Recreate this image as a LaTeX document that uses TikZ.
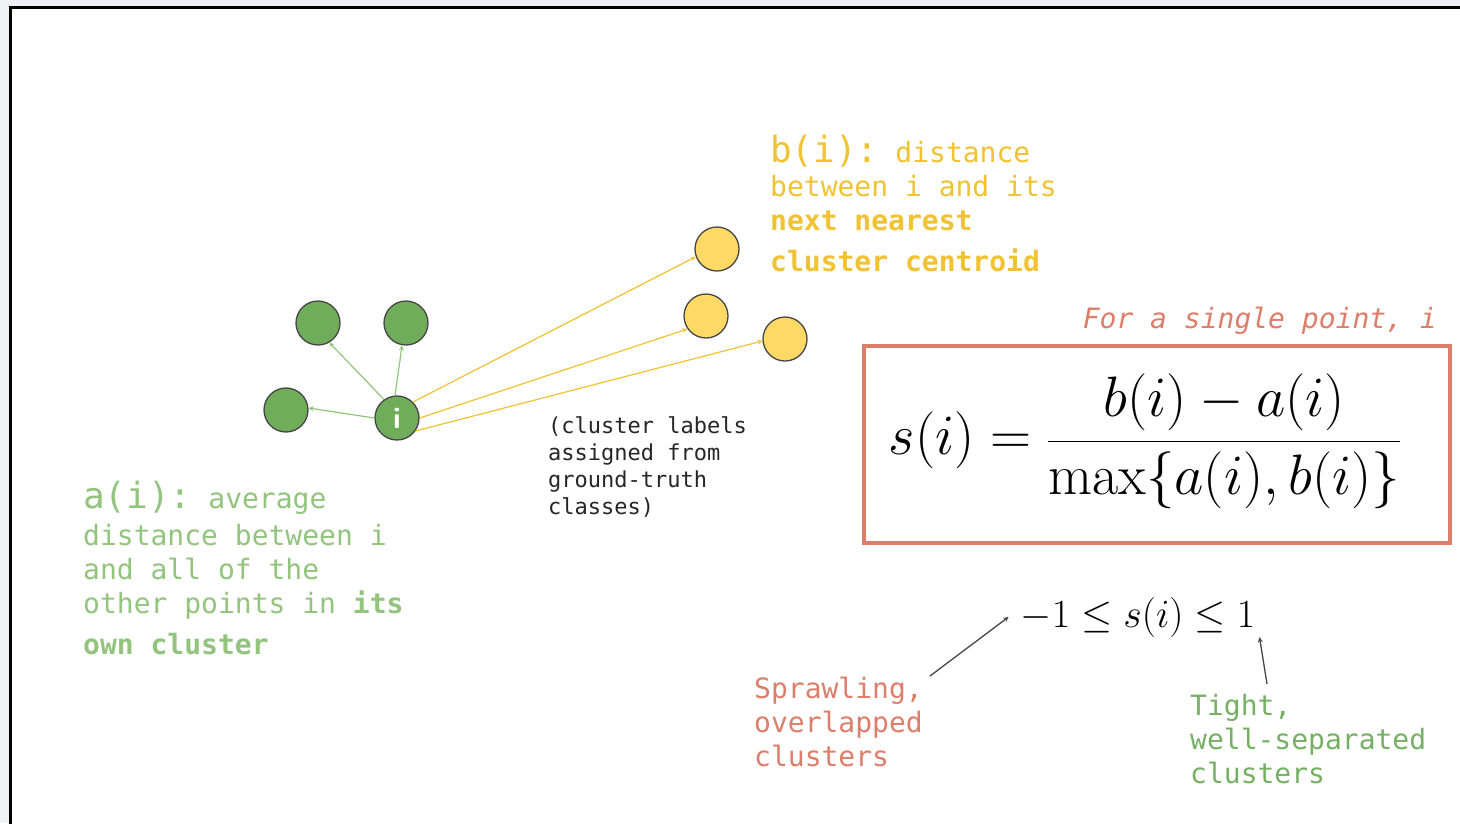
\documentclass[tikz,border=0pt]{standalone}
\usepackage{fix-cm}
\usepackage{fontspec}
\setmonofont{DejaVu Sans Mono}
\usetikzlibrary{arrows, positioning}

\definecolor{ptgreen}{RGB}{112,173,90}
\definecolor{txtgreen}{RGB}{147,196,125}
\definecolor{tightgreen}{RGB}{118,176,100}
\definecolor{ptyellow}{RGB}{255,217,102}
\definecolor{txtyellow}{RGB}{241,194,50}
\definecolor{salmon}{RGB}{221,126,107}
\definecolor{pagegray}{RGB}{240,241,244}
\definecolor{rim}{RGB}{70,70,70}

\tikzstyle{member} = [circle, minimum size=44pt, inner sep=0pt, draw=rim, line width=1.3pt, fill=ptgreen]
\tikzstyle{centroid} = [circle, minimum size=44pt, inner sep=0pt, draw=rim, line width=1.3pt, fill=ptyellow]
\tikzstyle{note} = [anchor=base west, align=left, inner sep=0pt, font=\ttfamily\fontsize{28}{34}\selectfont]
\tikzstyle{garrow} = [line width=1.2pt, ->, >=stealth, draw=txtgreen]
\tikzstyle{yarrow} = [line width=1.2pt, ->, >=stealth, draw=txtyellow]
\tikzstyle{karrow} = [line width=1.3pt, ->, >=stealth, draw=rim]

\begin{document}
\begin{tikzpicture}[x=1pt, y=-1pt]
\useasboundingbox (0,0) rectangle (1460,823);
\fill [pagegray] (0,0) rectangle (1460,823);
\draw [line width=3pt, fill=white] (10,7) rectangle (1480,840);

\node (g1) [member] at (318,323) {};
\node (g2) [member] at (406,323) {};
\node (g3) [member] at (286,410) {};
\node (pti) [member] at (397,418) {\color{white}\sffamily\bfseries\fontsize{30}{30}\selectfont i};

\node (y1) [centroid] at (717,249) {};
\node (y2) [centroid] at (706,316) {};
\node (y3) [centroid] at (785,339) {};

% multi-line notes sit on the baseline of their last line
\node (bnote) [note, text=txtyellow] at (770,271) {{\fontsize{36}{34}\selectfont b(i):} distance\\ between i and its\\ \textbf{next nearest}\\[7pt] \textbf{cluster centroid}};

\node (anote) [note, text=txtgreen] at (83,654) {{\fontsize{36}{34}\selectfont a(i):} average\\[3pt] distance between i\\ and all of the\\ other points in \textbf{its}\\[7pt] \textbf{own cluster}};

\node (labels) [note, font=\ttfamily\fontsize{22}{27}\selectfont, text=black!85] at (548,514) {(cluster labels\\ assigned from\\ ground-truth\\ classes)};

\node (caption) [note, anchor=base east, text=salmon, font=\ttfamily\itshape\fontsize{28}{34}\selectfont] at (1437,328) {For a single point, i};

\node (sbox) [draw=salmon, line width=4pt, minimum width=586pt, minimum height=197pt] at (1157,444.5) {};
\node (silh) [font=\fontsize{57}{66}\selectfont] at (1145,441) {$\displaystyle s(i) = \frac{b(i)-a(i)}{\max\{a(i),b(i)\}}$};

\node (ineq) [anchor=base, inner sep=0pt, font=\fontsize{40}{44}\selectfont] at (1138,627) {$-1 \leq s(i) \leq 1$};

\node (sprawl) [note, text=salmon] at (754,766) {Sprawling,\\ overlapped\\ clusters};
\node (tight) [note, text=tightgreen] at (1190,783) {Tight,\\ well-separated\\ clusters};

\coordinate (sprawltail) at (930,676);
\coordinate (tighttail) at (1267,684);

\draw [garrow] (pti.180) -- (g3.5);
\draw [garrow] (pti.125) -- (g1.-60);
\draw [garrow] (pti.95) -- (g2.-100);

\draw [yarrow] (pti.45) -- (y1.200);
\draw [yarrow] (pti.0) -- (y2.215);
\draw [yarrow] (pti.-35) -- (y3.185);

\draw [karrow] (sprawltail) -- ([xshift=-12pt]ineq.west);
\draw [karrow] (tighttail) -- ([xshift=4pt]ineq.south east);

\end{tikzpicture}
\end{document}
